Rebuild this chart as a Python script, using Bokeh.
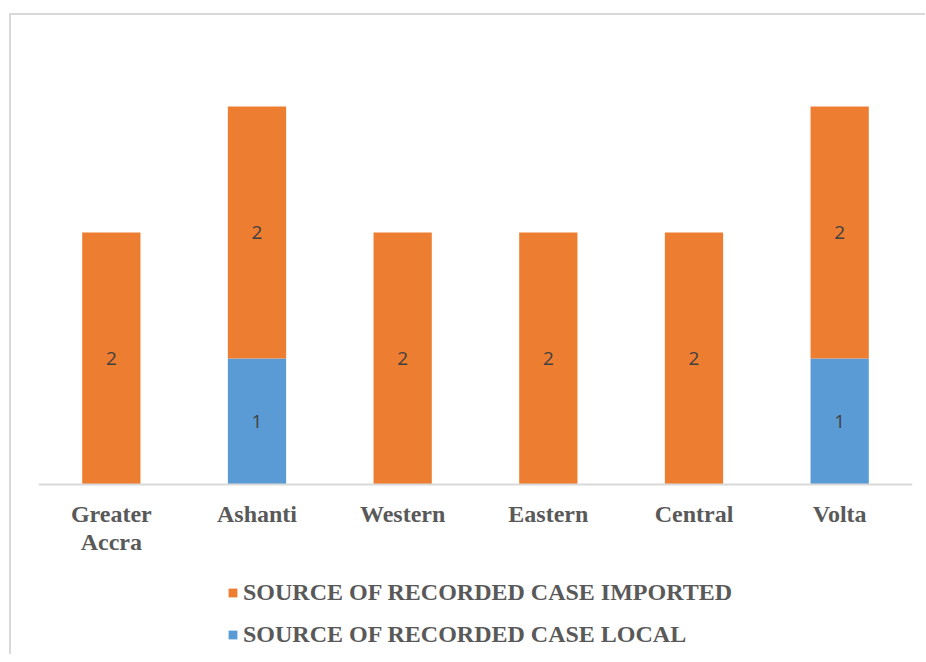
from bokeh.plotting import figure
from bokeh.models import ColumnDataSource, LabelSet, Legend, LegendItem, Range1d, CustomJSTickFormatter
from bokeh.core.properties import value
from bokeh.embed import file_html
from bokeh.resources import INLINE

regions = ["Greater Accra", "Ashanti", "Western", "Eastern", "Central", "Volta"]
local = [0, 1, 0, 0, 0, 1]
imported = [2, 2, 2, 2, 2, 2]
series_names = ["SOURCE OF RECORDED CASE IMPORTED", "SOURCE OF RECORDED CASE LOCAL"]

BLUE = "#5B9BD5"
ORANGE = "#ED7D31"
TXT = "#595959"

src = ColumnDataSource(dict(region=regions, local=local, imported=imported))

p = figure(x_range=regions, y_range=Range1d(-1.349, 3.5),
           frame_width=874, frame_height=611,
           output_backend="svg", toolbar_location=None,
           min_border_left=27, min_border_right=13, min_border_top=28, min_border_bottom=0)
p.margin = (13, 0, 0, 9)
p.styles = {"border-top": "2px solid #d9d9d9", "border-left": "2px solid #d9d9d9"}

rs = p.vbar_stack(["local", "imported"], x="region", width=0.4, color=[BLUE, ORANGE],
                  line_color=None, source=src)

# data labels
lx, ly, lt = [], [], []
for r, l, i in zip(regions, local, imported):
    if l:
        lx.append(r); ly.append(l / 2); lt.append(str(l))
    if i:
        lx.append(r); ly.append(l + i / 2); lt.append(str(i))
lsrc = ColumnDataSource(dict(x=lx, y=ly, t=lt))
p.add_layout(LabelSet(x="x", y="y", text="t", source=lsrc, text_align="center",
                      text_baseline="middle", text_font=value("Open Sans"),
                      text_font_size="19px", text_color="#404040"))

p.xgrid.visible = False
p.ygrid.visible = False
p.yaxis.visible = False
p.outline_line_color = None
p.xaxis.fixed_location = 0
p.xaxis.axis_line_color = "#d9d9d9"
p.xaxis.axis_line_width = 2
p.xaxis.major_tick_line_color = None
p.xaxis.minor_tick_line_color = None
p.xaxis.major_label_text_font = "Liberation Serif"
p.xaxis.major_label_text_font_style = "bold"
p.xaxis.major_label_text_font_size = "24px"
p.xaxis.major_label_text_color = TXT
p.xaxis.major_label_text_line_height = 1.1
p.xaxis.major_label_standoff = 10
p.xaxis.formatter = CustomJSTickFormatter(code="return tick == 'Greater Accra' ? 'Greater\\nAccra' : tick;")
p.x_range.range_padding = 0

legend = Legend(items=[LegendItem(label=series_names[0], renderers=[rs[1]]),
                       LegendItem(label=series_names[1], renderers=[rs[0]])],
                orientation="vertical", location=(189, 6))
legend.label_text_font = "Liberation Serif"
legend.label_text_font_style = "bold"
legend.label_text_font_size = "24px"
legend.label_text_color = TXT
legend.glyph_width = 11
legend.glyph_height = 11
legend.label_standoff = 5
legend.label_height = 24
legend.spacing = 15
legend.border_line_color = None
legend.background_fill_alpha = 0
legend.padding = 0
legend.margin = 0
p.add_layout(legend)

open("out.html", "w").write(file_html(p, INLINE))
